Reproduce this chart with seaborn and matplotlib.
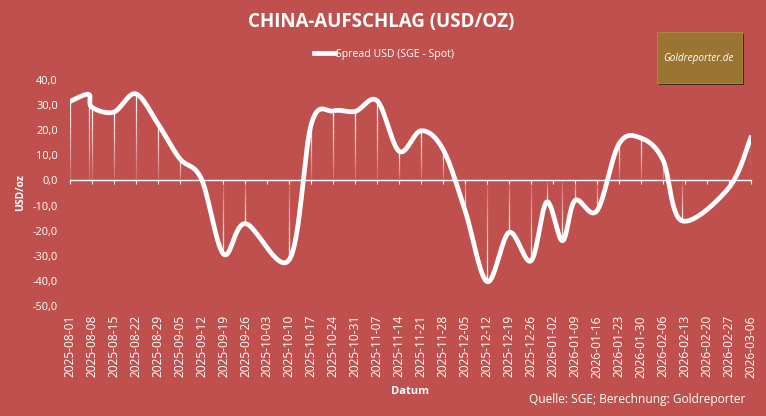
import numpy as np
import pandas as pd
import matplotlib
matplotlib.use("Agg")
import matplotlib.pyplot as plt
import matplotlib.dates as mdates
from matplotlib.collections import LineCollection
from matplotlib.patches import Rectangle
import seaborn as sns

# Spread SGE - Spot in USD/oz
dates = [
    "2025-08-01", "2025-08-07", "2025-08-08", "2025-08-15", "2025-08-22",
    "2025-08-29", "2025-09-05", "2025-09-12", "2025-09-19", "2025-09-26",
    "2025-10-10", "2025-10-17", "2025-10-24", "2025-10-31", "2025-11-07",
    "2025-11-14", "2025-11-21", "2025-11-28", "2025-12-05", "2025-12-12",
    "2025-12-19", "2025-12-26", "2025-12-31", "2026-01-05", "2026-01-09",
    "2026-01-16", "2026-01-23", "2026-01-30", "2026-02-06", "2026-02-12",
    "2026-02-27", "2026-03-06",
]
spread = [
    31.4, 34.3, 29.2, 27.2, 34.5,
    22.8, 8.8, 0.5, -29.3, -17.2,
    -31.5, 22.5, 27.7, 27.5, 31.7,
    11.6, 19.8, 12.3, -12.0, -40.3,
    -20.7, -32.0, -8.6, -24.0, -8.0,
    -12.1, 14.5, 16.9, 8.3, -16.0,
    -3.0, 16.9,
]
y_ticks = [40, 30, 20, 10, 0, -10, -20, -30, -40, -50]

BG = "#C0504D"
FONT = "Open Sans"


def excel_smooth(x, y, n=30):
    """Excel-style smoothed line (bezier through the points)."""
    pts = np.column_stack([x, y])
    out = []
    for i in range(len(pts) - 1):
        p0 = pts[i - 1] if i > 0 else pts[i]
        p1 = pts[i]
        p2 = pts[i + 1]
        p3 = pts[i + 2] if i + 2 < len(pts) else pts[i + 1]
        c1 = p1 + (p2 - p0) / 6
        c2 = p2 - (p3 - p1) / 6
        t = np.linspace(0, 1, n)[:, None]
        seg = (1 - t) ** 3 * p1 + 3 * (1 - t) ** 2 * t * c1 + 3 * (1 - t) * t ** 2 * c2 + t ** 3 * p2
        out.append(seg if i == 0 else seg[1:])
    return np.vstack(out)


df = pd.DataFrame({"date": pd.to_datetime(dates), "spread": spread})
xnum = mdates.date2num(df["date"])
curve = excel_smooth(xnum, df["spread"].to_numpy())
smooth = pd.DataFrame({"x": curve[:, 0], "y": curve[:, 1]})

plt.rcParams["font.family"] = [FONT, "DejaVu Sans"]
fig = plt.figure(figsize=(7.66, 4.16), dpi=100, facecolor=BG)
ax = fig.add_axes([0.091, 0.2644, 0.889, 0.5433])
ax.set_facecolor(BG)

# drop lines, fading towards the zero line
segs, cols = [], []
for xv, yv in zip(xnum, df["spread"]):
    k = 12
    for j in range(k):
        segs.append([(xv, yv * j / k), (xv, yv * (j + 1) / k)])
        cols.append((1, 1, 1, 0.08 + 0.92 * (j + 1) / k))
ax.add_collection(LineCollection(segs, colors=cols, linewidths=0.9, zorder=2))

sns.lineplot(data=smooth, x="x", y="y", sort=False, estimator=None,
             color="white", linewidth=3.4, ax=ax, zorder=3,
             label="Spread USD (SGE - Spot)", legend=False)

start = mdates.date2num(pd.Timestamp("2025-08-01"))
end = mdates.date2num(pd.Timestamp("2026-03-06"))
weeks = np.arange(start, end + 1, 7)
ax.set_xlim(start, end)
ax.set_ylim(-50, 40)
ax.set_xlabel("")

# zero line with weekly ticks
for s in ["top", "right", "left"]:
    ax.spines[s].set_visible(False)
ax.spines["bottom"].set_position(("data", 0))
ax.spines["bottom"].set_color("white")
ax.spines["bottom"].set_linewidth(1.0)
ax.set_xticks(weeks)
ax.tick_params(axis="x", direction="out", length=3, width=0.8, color="white",
               labelbottom=False)

# y axis labels
ax.set_yticks(y_ticks)
ax.set_yticklabels([f"{v:.1f}".replace(".", ",") for v in y_ticks])
ax.tick_params(axis="y", length=0, pad=8.5, labelsize=7.9, labelcolor="white")
ax.set_ylabel("USD/oz", color="white", fontsize=7.5, fontweight="bold")
ax.yaxis.set_label_coords(-0.064, 0.5)
ax.grid(False)

# date labels at the bottom of the plot
sec = ax.secondary_xaxis("bottom")
sec.set_xticks(weeks)
sec.xaxis.set_major_formatter(mdates.DateFormatter("%Y-%m-%d"))
sec.tick_params(length=0, pad=6.5, labelsize=8.6, labelcolor="white", labelrotation=90)
sec.spines["bottom"].set_visible(False)
sec.set_xlabel("Datum", color="white", fontsize=8, fontweight="bold", labelpad=6)

fig.text(0.498, 1 - 21.7 / 416, "CHINA-AUFSCHLAG (USD/OZ)", ha="center", va="center",
         color="white", fontsize=13.5, fontweight="bold")

leg = ax.legend(handles=ax.get_lines()[:1], labels=["Spread USD (SGE - Spot)"],
                loc="center", bbox_to_anchor=(384 / 766, 1 - 54 / 416),
                bbox_transform=fig.transFigure, frameon=False, fontsize=7.6,
                handlelength=2.0, handletextpad=0.15, labelcolor="white")

fig.text(0.973, 1 - 399 / 416, "Quelle: SGE; Berechnung: Goldreporter", ha="right",
         va="center", color="white", fontsize=8.6)

# logo box
fig.patches.append(Rectangle((659 / 766, 1 - 85 / 416), 85 / 766, 51 / 416,
                             transform=fig.transFigure, facecolor="#3f2f10",
                             edgecolor="none", zorder=1))
fig.patches.append(Rectangle((657 / 766, 1 - 83 / 416), 84.5 / 766, 51 / 416,
                             transform=fig.transFigure, facecolor="#9A7430",
                             edgecolor="#b08a45", linewidth=0.6, zorder=2))
fig.text(699 / 766, 1 - 58 / 416, "Goldreporter.de", ha="center", va="center",
         color="white", fontsize=7.2, style="italic", zorder=3)

fig.savefig("out.png", dpi=100, facecolor=BG)
